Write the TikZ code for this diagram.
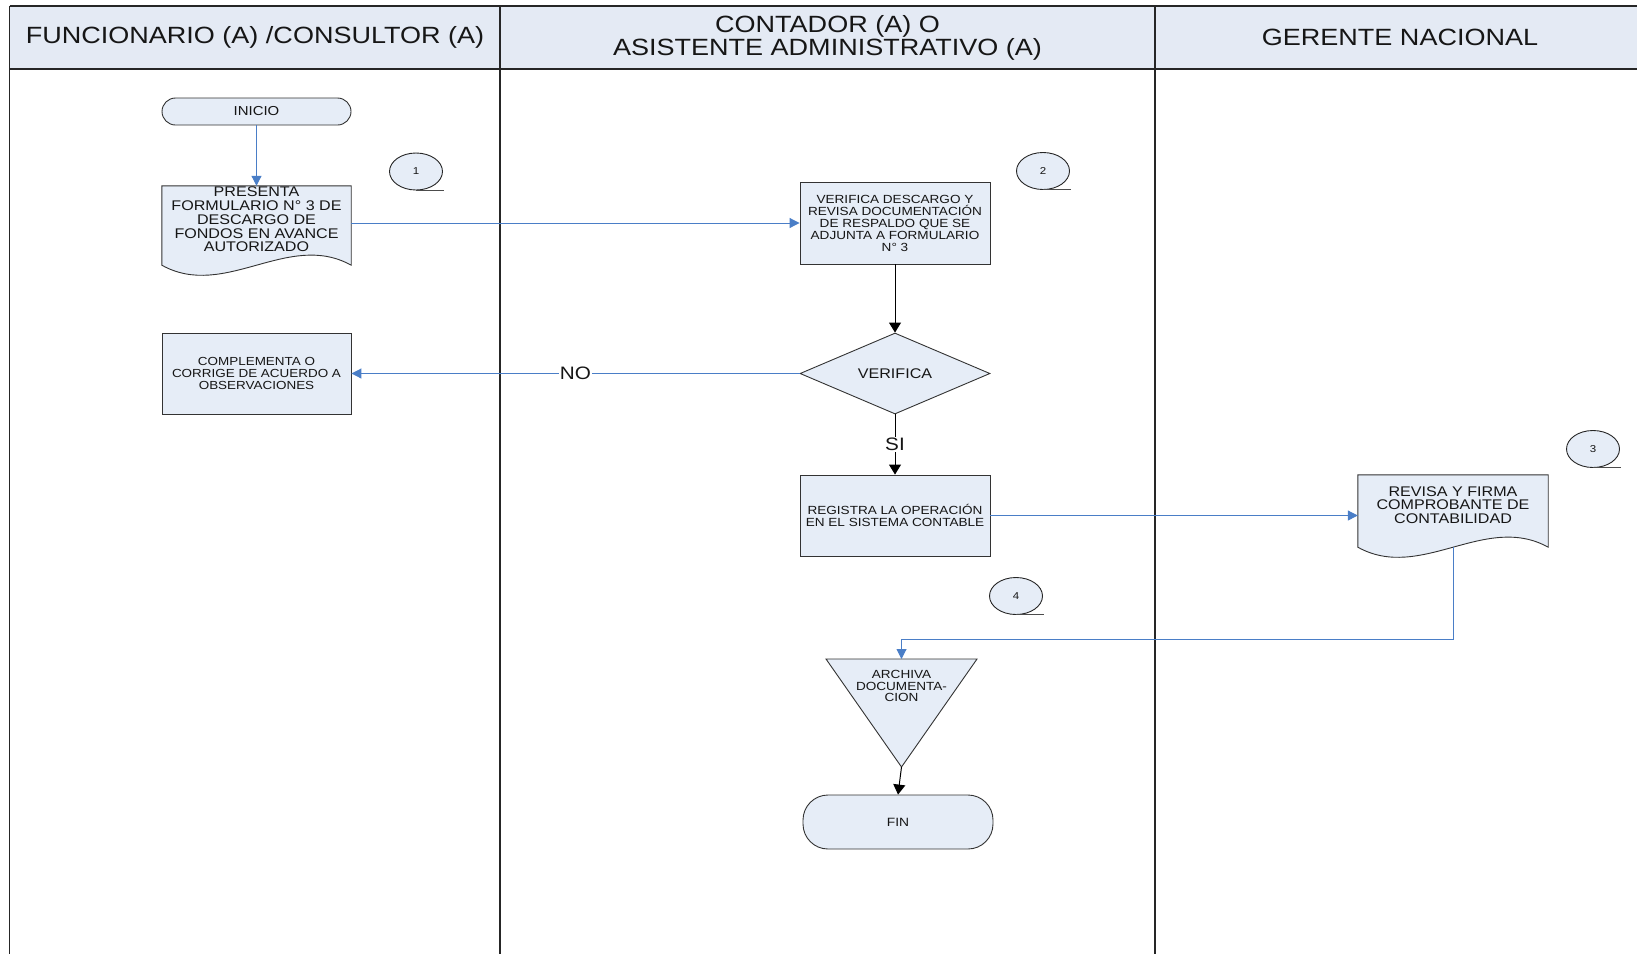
\documentclass[tikz,border=0pt]{standalone}
\usepackage{fontspec}
\setmainfont{Liberation Sans}[FakeStretch=1.15]
\usetikzlibrary{arrows.meta,shapes.geometric,calc}

\definecolor{headfill}{HTML}{E4EAF4}
\definecolor{boxfill}{HTML}{E6EDF7}
\definecolor{flowblue}{HTML}{4A7EC7}
\definecolor{ink}{HTML}{161616}
\newcommand\fsz[2]{\fontsize{#1}{#2}\selectfont}

\tikzset{
  laneline/.style={draw=black!85, line width=1.4pt},
  lanehead/.style={inner sep=0pt, align=center, text=ink, font=\fsz{23.5}{23}},
  flowbox/.style={draw=black!80, line width=0.9pt, fill=boxfill, inner sep=0pt, align=center, text=ink},
  docline/.style={draw=black!80, line width=0.9pt, fill=boxfill},
  docarea/.style={inner sep=0pt},
  flowtext/.style={inner sep=0pt, align=center, text=ink},
  refmark/.style={ellipse, draw=black!85, line width=0.9pt, fill=boxfill, inner sep=0pt,
                  minimum width=53pt, minimum height=37pt, text=ink, font=\fsz{10}{10}},
  markline/.style={draw=black!70, line width=1pt},
  blueflow/.style={draw=flowblue, line width=1pt, -{Triangle[length=10pt,width=10pt]}, color=flowblue},
  blackflow/.style={draw=black, line width=1pt, -{Triangle[length=10pt,width=12pt]}},
  edgelabel/.style={fill=white, inner sep=1pt, text=ink, font=\fsz{18}{18}},
}

\begin{document}
\begin{tikzpicture}[x=1pt,y=-1pt]
\useasboundingbox (0,0) rectangle (1637,954);

% swimlane frame and headers
\fill[headfill] (9.5,6) rectangle (1637,69);
\draw[laneline] (9.5,6) -- (1637,6);
\draw[laneline] (9.5,69) -- (1637,69);
\draw[laneline] (9.5,6) -- (9.5,954);
\draw[laneline] (500,6) -- (500,954);
\draw[laneline] (1155,6) -- (1155,954);

\node[lanehead] (h1) at (255,37) {FUNCIONARIO (A) /CONSULTOR (A)};
\node[lanehead] (h2) at (827.5,38) {CONTADOR (A) O\\ASISTENTE ADMINISTRATIVO (A)};
\node[lanehead] (h3) at (1400,37) {GERENTE NACIONAL};

% lane 1
\node[flowbox, minimum width=189pt, minimum height=27pt, rounded corners=13.5pt, font=\fsz{13}{13}] (inicio) at (256.5,111.5) {INICIO};

\node[docarea, minimum width=189pt, minimum height=79pt] (p1) at (256.5,225.5) {};
\filldraw[docline] (p1.south west) -- (p1.north west) -- (p1.north east) -- (p1.south east)
  .. controls ($(p1.south east)+(-63,-35)$) and ($(p1.south west)+(63,35)$) .. (p1.south west) -- cycle;
\node[flowtext, font=\fsz{14}{13.8}] (p1t) at (256.5,219.5) {PRESENTA\\FORMULARIO N° 3 DE\\DESCARGO DE\\FONDOS EN AVANCE\\AUTORIZADO};

\node[flowbox, minimum width=189pt, minimum height=81pt, font=\fsz{11.7}{11.6}] (comp) at (256.5,373.5)
  {COMPLEMENTA O\\CORRIGE DE ACUERDO A\\OBSERVACIONES};

% lane 2
\node[flowbox, minimum width=190pt, minimum height=82pt, font=\fsz{11.8}{12}] (verif) at (895,223)
  {VERIFICA DESCARGO Y\\REVISA DOCUMENTACIÓN\\DE RESPALDO QUE SE\\ADJUNTA A FORMULARIO\\N° 3};

\node[flowbox, diamond, aspect=2.35, minimum width=190pt, minimum height=81pt, font=\fsz{14}{14}] (dia) at (895,373.5)
  {VERIFICA};

\node[flowbox, minimum width=190pt, minimum height=81pt, font=\fsz{11.8}{11.6}] (reg) at (895,515.5)
  {REGISTRA LA OPERACIÓN\\EN EL SISTEMA CONTABLE};

% archive (inverted triangle)
\coordinate (trinw) at (826,659);
\coordinate (trine) at (977,659);
\coordinate (tritop) at (901.5,659);
\coordinate (triapex) at (901.5,767);
\filldraw[docline] (trinw) -- (trine) -- (triapex) -- cycle;
\node[flowtext, font=\fsz{11.8}{11.4}] (tri) at (901.5,686) {ARCHIVA\\DOCUMENTA-\\CION};

\node[flowbox, minimum width=190pt, minimum height=54pt, rounded corners=25pt, font=\fsz{12}{12}] (fin) at (898,822) {FIN};

% lane 3
\node[docarea, minimum width=190pt, minimum height=72pt] (rev) at (1453,511) {};
\filldraw[docline] (rev.south west) -- (rev.north west) -- (rev.north east) -- (rev.south east)
  .. controls ($(rev.south east)+(-63,-35)$) and ($(rev.south west)+(63,35)$) .. (rev.south west) -- cycle;
\node[flowtext, font=\fsz{14}{13.8}] (revt) at (1453,505) {REVISA Y FIRMA\\COMPROBANTE DE\\CONTABILIDAD};

% step markers
\node[refmark] (m1) at (416,171.5) {1};
\node[refmark] (m2) at (1043,171) {2};
\node[refmark] (m3) at (1593,449) {3};
\node[refmark] (m4) at (1016,596) {4};
\foreach \m in {m1,m2,m3,m4} \draw[markline] (\m.south) -- ++(28,0);

% connectors
\draw[blueflow] (inicio.south) -- (p1.north);
\draw[blueflow] (p1.east |- verif.west) -- (verif.west);
\draw[blackflow] (verif.south) -- (dia.north);
\draw[blueflow] (dia.west) -- node[edgelabel] (nolbl) {NO} (comp.east);
\draw[blackflow] (dia.south) -- node[edgelabel] (silbl) {SI} (reg.north);
\draw[blueflow] (reg.east) -- (reg.east -| rev.west);
\draw[blueflow] (rev.south) -- ++(0,92) -| (tritop);
\draw[blackflow] (triapex) -- (fin.north);
\end{tikzpicture}
\end{document}
